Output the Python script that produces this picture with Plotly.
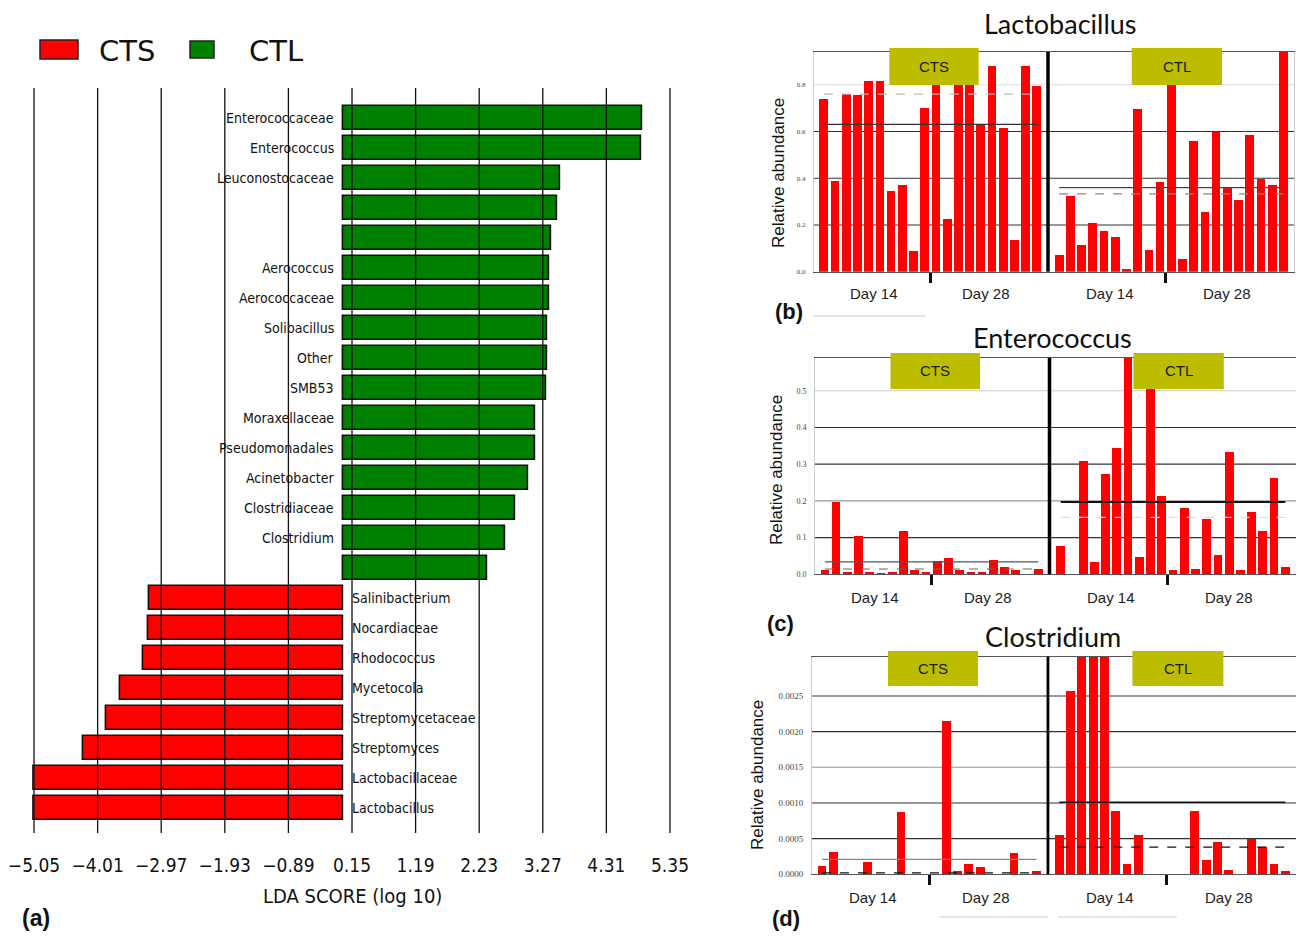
import plotly.graph_objects as go

# The page body keeps its default 8px margin, so the figure is 16px smaller than the
# window and every reference pixel position is shifted by that margin.
PAGE_W, PAGE_H = 1304, 940
OFF = 8
W, H = PAGE_W - 2 * OFF, PAGE_H - 2 * OFF


def px(x):
    return min(max((x - OFF) / W, 0), 1)


def py(y):
    return min(max(1 - (y - OFF) / H, 0), 1)


# ---------------- data: panel (a) LEfSe LDA scores ----------------
lda_taxa = ["Enterococcaceae", "Enterococcus", "Leuconostocaceae", "", "",
            "Aerococcus", "Aerococcaceae", "Solibacillus", "Other", "SMB53",
            "Moraxellaceae", "Pseudomonadales", "Acinetobacter", "Clostridiaceae",
            "Clostridium", "", "Salinibacterium", "Nocardiaceae", "Rhodococcus",
            "Mycetocola", "Streptomycetaceae", "Streptomyces", "Lactobacillaceae",
            "Lactobacillus"]
lda_scores = [4.90, 4.88, 3.56, 3.50, 3.40, 3.37, 3.37, 3.35, 3.35, 3.33, 3.15, 3.14,
              3.03, 2.82, 2.65, 2.36, -3.16, -3.19, -3.27, -3.64, -3.87, -4.25,
              -5.07, -5.07]
lda_ticks = [-5.05, -4.01, -2.97, -1.93, -0.89, 0.15, 1.19, 2.23, 3.27, 4.31, 5.35]
groups = ["CTS", "CTL"]

# ---------------- data: panels (b)-(d) relative abundance ----------------
day_labels = ["Day 14", "Day 28"]
n_day14 = [10, 10]  # CTS, CTL samples at day 14

lacto_cts = [0.74, 0.39, 0.76, 0.755, 0.815, 0.815, 0.345, 0.37, 0.09, 0.70,
             0.83, 0.225, 0.86, 0.85, 0.63, 0.88, 0.615, 0.135, 0.88, 0.795]
lacto_ctl = [0.07, 0.325, 0.115, 0.21, 0.175, 0.15, 0.01, 0.695, 0.093, 0.385,
             0.83, 0.056, 0.56, 0.255, 0.597, 0.357, 0.307, 0.586, 0.396, 0.372, 0.95]
lacto_mean = [0.63, 0.36]
lacto_median = [0.76, 0.333]
lacto_yticks = [0.0, 0.2, 0.4, 0.6, 0.8]

entero_cts = [0.012, 0.197, 0.008, 0.105, 0.007, 0.002, 0.007, 0.118, 0.013, 0.008,
              0.038, 0.045, 0.012, 0.008, 0.007, 0.040, 0.022, 0.013, 0.001, 0.016]
entero_ctl = [0.077, 0.001, 0.310, 0.034, 0.275, 0.345, 0.62, 0.048, 0.51, 0.213,
              0.012, 0.181, 0.014, 0.152, 0.054, 0.334, 0.012, 0.171, 0.119, 0.264, 0.021]
entero_mean = [0.034, 0.197]
entero_median = [0.0145, 0.155]
entero_yticks = [0.0, 0.1, 0.2, 0.3, 0.4, 0.5]

clost_cts = [0.000126, 0.000322, 0, 0, 0.000173, 0, 0, 0.000883, 0, 0,
             0, 0.00215, 0.000056, 0.00015, 0.0001, 0, 0, 0.0003, 0, 0.000056]
clost_ctl = [0.000556, 0.00257, 0.0035, 0.0035, 0.0035, 0.000888, 0.00015, 0.000556, 0, 0,
             0, 0, 0.000897, 0.000206, 0.000463, 0.00006, 0, 0.0005, 0.000393, 0.00015, 0.00005]
clost_mean = [0.00021, 0.00101]
clost_median = [0.00002, 0.00038]
clost_yticks = [0.0, 0.0005, 0.0010, 0.0015, 0.0020, 0.0025]

# ---------------- styles ----------------
RED = "#FF0000"
GREEN = "#008000"
OLIVE = "#BDBD00"
COND = "DejaVu Sans Condensed, DejaVu Sans"
SANS = "Liberation Sans, Arial"
TITLEF = "Lato, Open Sans"

fig = go.Figure()
shapes = []
annots = []


def ptext(x, y, text, font, **kw):
    d = dict(x=px(x), y=py(y), xref="paper", yref="paper", text=text, showarrow=False,
             xanchor="center", yanchor="middle", font=font)
    d.update(kw)
    annots.append(d)


# ================= panel (a) =================
rows = list(range(len(lda_taxa)))
pos_idx = [i for i in rows if lda_scores[i] > 0]
neg_idx = [i for i in rows if lda_scores[i] < 0]
fig.add_trace(go.Bar(orientation="h", x=[lda_scores[i] for i in pos_idx], y=pos_idx,
                     marker=dict(color=GREEN, line=dict(color="#111", width=1.6)),
                     width=0.8, name=groups[1], showlegend=False, xaxis="x", yaxis="y"))
fig.add_trace(go.Bar(orientation="h", x=[lda_scores[i] for i in neg_idx], y=neg_idx,
                     marker=dict(color=RED, line=dict(color="#111", width=1.6)),
                     width=0.8, name=groups[0], showlegend=False, xaxis="x", yaxis="y"))

for t in lda_ticks:
    shapes.append(dict(type="line", xref="x", yref="y domain", x0=t, x1=t, y0=0, y1=1,
                       line=dict(color="#111", width=1.3), layer="above"))
for i in rows:
    if not lda_taxa[i]:
        continue
    pos = lda_scores[i] > 0
    annots.append(dict(x=0, y=i, xref="x", yref="y", text=lda_taxa[i], showarrow=False,
                       xanchor="right" if pos else "left", yanchor="middle",
                       xshift=-7 if pos else 7,
                       font=dict(family=COND, size=14, color="#111")))

ptext(352, 896, "LDA SCORE (log 10)", dict(family=COND, size=20, color="#111"))
ptext(36, 918, "<b>(a)</b>", dict(family=SANS, size=23, color="#111"))

# legend
for (x0, x1, y0, y1), col, lab, tx in [((40, 78, 40, 59), RED, groups[0], 127),
                                       ((190, 214, 41, 58), GREEN, groups[1], 276)]:
    shapes.append(dict(type="rect", xref="paper", yref="paper", x0=px(x0), x1=px(x1),
                       y0=py(y1), y1=py(y0), fillcolor=col, line=dict(color="#222", width=1.5)))
    ptext(tx, 51, lab, dict(family="DejaVu Sans", size=29, color="#111"))

fig.update_layout(
    xaxis=dict(domain=[px(32.2), px(671.8)], range=[-5.08, 5.38], anchor="y", automargin=False,
               tickvals=lda_ticks, ticklabeloverflow="allow",
               ticktext=[f"{t:.2f}".replace("-", "\u2212") for t in lda_ticks],
               showgrid=False, zeroline=False, showline=False, ticks="outside", ticklen=15,
               tickcolor="rgba(0,0,0,0)", tickfont=dict(family=COND, size=19, color="#111")),
    yaxis=dict(domain=[py(833), py(88)], range=[23.83, -1.0], anchor="x", visible=False,
               automargin=False),
)

# ================= panels (b)-(d) =================
panels = [
    dict(title="Lactobacillus", tag="(b)", cts=lacto_cts, ctl=lacto_ctl, mean=lacto_mean,
         median=lacto_median, yticks=lacto_yticks, fmt="{:.1f}", ymax=0.94,
         geom=(814, 1294, 52, 271.7), title_xy=(1060, 24), tag_xy=(789, 312), day_y=293,
         ytitle_xy=(778, 173), tickfs=7, boxy=(48, 85),
         grid_col={0.8: "#dddddd"}, mean_col=["#333", "#444"], med_col=["#bbbbbb", "#888888"],
         mean_w=[1.2, 1.2], divw=3.5),
    dict(title="Enterococcus", tag="(c)", cts=entero_cts, ctl=entero_ctl, mean=entero_mean,
         median=entero_median, yticks=entero_yticks, fmt="{:.1f}", ymax=0.59,
         geom=(815, 1296, 357.7, 574.3), title_xy=(1052, 337), tag_xy=(781, 623), day_y=597,
         ytitle_xy=(776, 470), tickfs=8, boxy=(353, 389),
         grid_col={0.5: "#cccccc", 0.2: "#999999"}, mean_col=["#555", "#111"],
         med_col=["#666666", "#dddddd"], mean_w=[1.2, 2], divw=3.5),
    dict(title="Clostridium", tag="(d)", cts=clost_cts, ctl=clost_ctl, mean=clost_mean,
         median=clost_median, yticks=clost_yticks, fmt="{:.4f}", ymax=0.00305,
         geom=(812, 1296, 656.7, 874.3), title_xy=(1053, 636), tag_xy=(786, 918), day_y=897,
         ytitle_xy=(757, 775), tickfs=9, boxy=(651, 686),
         grid_col={0.0015: "#999999"}, mean_col=["#888", "#111"],
         med_col=["#111111", "#111111"], mean_w=[1.2, 1.5], divw=2.8),
]

for k, p in enumerate(panels):
    xa = f"x{k + 2}"
    ya = f"y{k + 2}"
    l, r, t, b = p["geom"]
    n_cts = len(p["cts"])
    x_cts = list(range(n_cts))
    x_ctl = [n_cts + 1 + i for i in range(len(p["ctl"]))]
    for xs, ys, g in [(x_cts, p["cts"], 0), (x_ctl, p["ctl"], 1)]:
        fig.add_trace(go.Bar(x=xs, y=ys, width=0.78, marker=dict(color=RED, line=dict(width=0)),
                             showlegend=False, name=groups[g], xaxis=xa, yaxis=ya))
        fig.add_trace(go.Scatter(x=[xs[0], xs[-1]], y=[p["median"][g]] * 2, mode="lines",
                                 line=dict(color=p["med_col"][g], width=1.2, dash="dash"),
                                 showlegend=False, hoverinfo="skip", xaxis=xa, yaxis=ya))
        fig.add_trace(go.Scatter(x=[xs[0], xs[-1]], y=[p["mean"][g]] * 2, mode="lines",
                                 line=dict(color=p["mean_col"][g], width=p["mean_w"][g]),
                                 showlegend=False, hoverinfo="skip", xaxis=xa, yaxis=ya))

    xr = [-0.88, x_ctl[-1] + 0.95]
    day_ticks = [n_day14[0] - 0.5, x_ctl[0] + n_day14[1] - 0.5]
    fig.update_layout({
        f"xaxis{k + 2}": dict(domain=[px(l), px(r)], range=xr, anchor=ya, showgrid=False,
                              automargin=False,
                              zeroline=False, showline=True, linecolor="#555", linewidth=1.2,
                              mirror=True, tickvals=day_ticks, ticks="outside", ticklen=10,
                              tickwidth=3, tickcolor="#111", showticklabels=False),
        f"yaxis{k + 2}": dict(domain=[py(b), py(t)], range=[0, p["ymax"]], anchor=xa,
                              automargin=False,
                              showgrid=False, zeroline=False, showline=True, linecolor="#cccccc",
                              mirror=True, tickvals=p["yticks"],
                              ticktext=[p["fmt"].format(v) for v in p["yticks"]],
                              ticks="outside", ticklen=6, tickcolor="rgba(0,0,0,0)",
                              tickfont=dict(family="Liberation Serif", size=p["tickfs"],
                                            color="#444")),
    })
    # horizontal gridlines
    for v in p["yticks"][1:]:
        shapes.append(dict(type="line", xref=f"{xa} domain", yref=ya, x0=0, x1=1, y0=v, y1=v,
                           line=dict(color=p["grid_col"].get(v, "#333333"), width=1.1),
                           layer="below"))
    # divider between groups
    shapes.append(dict(type="line", xref=xa, yref=f"{ya} domain", x0=n_cts, x1=n_cts,
                       y0=0, y1=1, line=dict(color="#000", width=p["divw"]), layer="above"))
    # group label boxes
    by0, by1 = p["boxy"]
    h = b - t
    for g, (fx0, fx1) in enumerate([(0.157, 0.343), (0.662, 0.850)]):
        shapes.append(dict(type="rect", xref=f"{xa} domain", yref=f"{ya} domain", x0=fx0,
                           x1=fx1, y0=(b - by1) / h, y1=(b - by0) / h, fillcolor=OLIVE,
                           line=dict(width=0), layer="above"))
        annots.append(dict(xref=f"{xa} domain", yref=f"{ya} domain", x=(fx0 + fx1) / 2,
                           y=(b - (by0 + by1) / 2) / h, text=groups[g], showarrow=False,
                           xanchor="center", yanchor="middle",
                           font=dict(family="Liberation Sans Narrow, Liberation Sans", size=15,
                                     color="#1a1a1a")))
    # day labels under each half
    centers = [(n_day14[0] - 1) / 2, (n_day14[0] + n_cts - 1) / 2,
               x_ctl[0] + (n_day14[1] - 1) / 2, (x_ctl[0] + n_day14[1] + x_ctl[-1]) / 2]
    for c, lab in zip(centers, day_labels * 2):
        annots.append(dict(xref=xa, yref="paper", x=c, y=py(p["day_y"]), text=lab,
                           showarrow=False, xanchor="center", yanchor="middle",
                           font=dict(family=SANS, size=15, color="#222")))
    # titles and tags
    ptext(*p["title_xy"], p["title"], dict(family=TITLEF, size=27, color="#111"))
    ptext(*p["tag_xy"], f"<b>{p['tag']}</b>", dict(family=SANS, size=22, color="#111"))
    ptext(*p["ytitle_xy"], "Relative abundance", dict(family=SANS, size=17, color="#111"),
          textangle=-90)

# faint decorative rules from the original composite
for x0, x1, yy in [(813, 925, 316), (940, 1048, 917), (1058, 1177, 917)]:
    shapes.append(dict(type="line", xref="paper", yref="paper", x0=px(x0), x1=px(x1),
                       y0=py(yy), y1=py(yy), line=dict(color="#cccccc", width=1)))

fig.update_layout(width=W, height=H, margin=dict(l=0, r=0, t=0, b=0, autoexpand=False),
                  paper_bgcolor="white", plot_bgcolor="white", bargap=0,
                  shapes=shapes, annotations=annots, showlegend=False)

fig.write_html("out.html")
